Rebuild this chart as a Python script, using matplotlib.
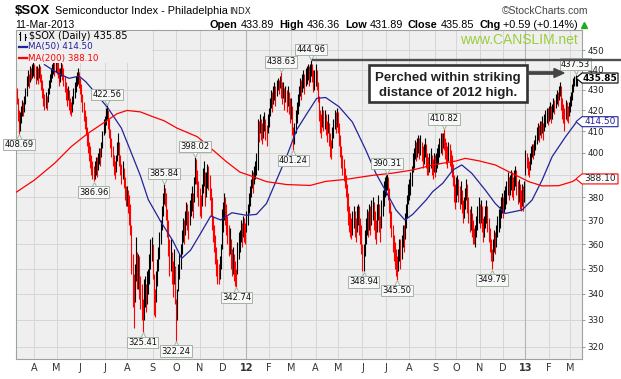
import numpy as np
import matplotlib
matplotlib.use("Agg")
import matplotlib.pyplot as plt
from matplotlib.patches import Polygon, Rectangle, FancyArrow
from matplotlib.lines import Line2D
from matplotlib.transforms import IdentityTransform, offset_copy
from matplotlib.ticker import FixedLocator, NullLocator

# ------------------------------------------------------------------ data
# trading days per calendar month, Mar-2011 (from 10th) .. Mar-2013 (to 11th)
month_lengths = [16, 20, 21, 22, 20, 23, 21, 21, 21, 21, 20, 20, 22, 20, 22, 21, 21, 23, 19, 21, 21, 20, 21, 19, 7]
month_labels = ['', 'A', 'M', 'J', 'J', 'A', 'S', 'O', 'N', 'D', '12', 'F', 'M', 'A', 'M', 'J', 'J', 'A', 'S', 'O', 'N', 'D', '13', 'F', 'M']

closes = [
    425, 418, 411, 416, 419, 422, 420, 424, 428, 433, 436, 435, 439, 438, 440, 441,
    440, 437, 439, 436, 441, 438, 434, 430, 427, 424, 426, 423, 428, 432, 435, 438, 440, 442, 441, 443,
    442, 440, 436, 438, 441, 439, 437, 433, 430, 427, 429, 425, 422, 420, 424, 427, 430, 433, 436, 437, 435,
    432, 427, 423, 420, 415, 412, 408, 404, 400, 398, 394, 392, 389, 391, 395, 393, 397, 399, 398, 402, 406, 412,
    414, 418, 420, 416, 412, 406, 403, 398, 395, 392, 396, 401, 404, 398, 395, 390, 392, 388, 384, 380,
    381, 378, 375, 370, 352, 345, 333, 350, 356, 347, 352, 344, 340, 335, 328, 338, 342, 336, 345, 347, 352, 358, 360,
    352, 340, 336, 345, 350, 355, 360, 366, 372, 378, 382, 380, 376, 368, 362, 352, 356, 350, 345, 352, 340,
    330, 340, 348, 352, 356, 362, 367, 365, 370, 374, 372, 366, 375, 378, 380, 376, 385, 395, 392, 384, 380,
    378, 376, 382, 388, 390, 382, 386, 390, 388, 384, 378, 372, 366, 362, 358, 352, 348, 347, 350, 356, 372,
    372, 376, 374, 370, 366, 360, 362, 356, 352, 354, 350, 348, 346, 358, 360, 362, 366, 364, 368, 366, 364,
    370, 372, 378, 380, 384, 388, 386, 390, 392, 396, 412, 410, 414, 411, 409, 412, 415, 411, 408, 414,
    418, 422, 426, 424, 428, 430, 427, 432, 435, 433, 436, 432, 428, 431, 426, 429, 425, 428, 424, 420,
    422, 414, 405, 410, 416, 420, 424, 428, 432, 430, 434, 436, 433, 437, 438, 440, 437, 439, 442, 440, 434, 436,
    438, 434, 428, 420, 414, 412, 418, 415, 416, 412, 410, 414, 408, 403, 400, 408, 412, 416, 414, 417,
    414, 408, 402, 398, 395, 392, 388, 385, 380, 374, 370, 368, 366, 370, 372, 368, 366, 371, 373, 370, 366, 362,
    354, 356, 362, 366, 370, 368, 372, 370, 374, 376, 372, 368, 365, 372, 376, 370, 366, 374, 378, 382, 385,
    386, 388, 384, 378, 372, 368, 362, 358, 356, 352, 350, 354, 358, 356, 360, 364, 362, 368, 372, 376, 382,
    384, 386, 390, 396, 398, 402, 400, 403, 405, 402, 404, 400, 398, 400, 403, 398, 395, 394, 396, 398, 394, 392, 396,
    394, 396, 398, 400, 403, 405, 404, 407, 406, 402, 400, 398, 401, 399, 396, 394, 390, 384, 380,
    384, 386, 383, 380, 382, 378, 374, 376, 380, 384, 378, 374, 370, 372, 368, 365, 362, 364, 368, 372, 374,
    372, 374, 370, 366, 368, 372, 374, 370, 366, 362, 356, 352, 358, 362, 360, 364, 368, 370, 372, 376, 378,
    376, 378, 380, 382, 386, 384, 386, 388, 385, 384, 388, 390, 386, 382, 384, 380, 378, 382, 379, 383,
    398, 396, 394, 392, 396, 399, 401, 400, 403, 405, 408, 410, 409, 412, 411, 413, 410, 414, 416, 418, 417,
    419, 421, 418, 420, 423, 422, 425, 427, 426, 429, 431, 428, 420, 418, 414, 422, 420, 418, 421,
    424, 427, 431, 434, 434, 435.26, 435.85,
]
highs = [
    431, 426, 420, 419, 422, 425, 424, 427, 431, 437, 440, 438, 442, 441, 443, 444,
    443, 442, 442, 441, 443, 442, 438, 435, 431, 428, 429, 427, 431, 435, 438, 441, 443, 445, 444, 446,
    446, 444, 441, 441, 444, 443, 441, 437, 434, 431, 432, 430, 426, 424, 427, 431, 434, 437, 439, 441, 439,
    436, 433, 428, 424, 420, 417, 412, 409, 405, 403, 399, 396, 394, 396, 398, 398, 400, 402, 402, 405, 410, 416,
    417, 421, 422.56, 420, 416, 411, 407, 403, 399, 396, 399, 405, 409, 405, 399, 395, 396, 393, 389, 385,
    385, 383, 381, 377, 368, 356, 348, 352, 363, 357, 356, 355, 347, 344, 338, 346, 347, 344, 349, 350, 356, 362, 363,
    360, 348, 342, 349, 354, 359, 365, 370, 376, 382, 385.84, 384, 382, 375, 370, 362, 362, 357, 353, 358, 351,
    338, 342, 352, 356, 360, 366, 371, 370, 374, 378, 377, 374, 379, 382, 385, 382, 389, 398.02, 397, 392, 387,
    384, 381, 386, 393, 396, 391, 391, 395, 394, 390, 384, 380, 372, 368, 364, 359, 354, 352, 355, 360, 375,
    378, 382, 380, 377, 372, 368, 367, 362, 358, 359, 356, 353, 350, 361, 365, 366, 370, 369, 372, 371, 369,
    374, 377, 382, 385, 388, 392, 391, 394, 396, 400, 416, 415, 418, 416, 414, 417, 419, 416, 413, 418,
    421, 426, 430, 429, 432, 434, 432, 435, 436, 435, 437, 438.63, 434, 434, 431, 432, 430, 432, 429, 426,
    426, 422, 412, 414, 420, 424, 428, 432, 436, 435, 438, 440, 438, 441, 442, 443, 442, 443, 444.96, 443, 440, 440,
    443, 440, 434, 427, 420, 418, 422, 420, 420, 418, 415, 418, 414, 409, 406, 412, 416, 420, 419, 421,
    419, 414, 408, 403, 399, 397, 393, 390, 386, 382, 376, 373, 371, 374, 376, 374, 371, 376, 377, 376, 371, 368,
    360, 360, 366, 371, 375, 374, 377, 376, 379, 380, 378, 374, 370, 377, 381, 377, 372, 379, 383, 387, 389,
    390, 390.31, 389, 384, 378, 374, 368, 364, 361, 358, 355, 358, 362, 362, 364, 368, 368, 373, 377, 381, 386,
    388, 391, 394, 400, 402, 406, 405, 407, 408, 407, 408, 405, 403, 404, 407, 404, 400, 398, 400, 402, 399, 397, 400,
    399, 400, 402, 404, 407, 409, 409, 409, 410.82, 407, 405, 403, 405, 404, 401, 399, 395, 390, 386,
    389, 390, 388, 385, 387, 383, 379, 380, 384, 388, 386, 380, 375, 376, 373, 370, 367, 368, 372, 376, 380,
    377, 379, 376, 371, 372, 376, 379, 376, 371, 367, 362, 358, 362, 366, 365, 368, 372, 375, 376, 380, 382,
    380, 383, 385, 387, 391, 389, 390, 392, 391, 389, 392, 394, 392, 387, 388, 386, 383, 386, 385, 387,
    401, 400, 398, 396, 400, 403, 404, 404, 406, 408, 412, 414, 413, 415, 415, 417, 414, 418, 420, 421, 421,
    422, 424, 422, 423, 426, 425, 428, 430, 429, 432, 434, 432, 426, 423, 421, 425, 424, 422, 424,
    427, 429, 433, 436, 437, 437.53, 436.36,
]
lows = [
    423, 415, 408.69, 410, 414, 417, 417, 419, 423, 427, 432, 431, 434, 435, 436, 437,
    436, 433, 435, 433, 436, 434, 430, 426, 422, 420, 421, 420, 424, 428, 431, 434, 436, 438, 437, 439,
    438, 436, 432, 434, 437, 435, 432, 429, 425, 422, 425, 420, 418, 417, 419, 423, 426, 429, 432, 433, 431,
    428, 424, 419, 415, 411, 408, 403, 400, 396, 393, 390, 388, 386.96, 388, 390, 389, 392, 395, 394, 398, 402, 408,
    409, 413, 416, 411, 407, 402, 398, 394, 390, 388, 391, 396, 399, 394, 390, 386, 388, 384, 379, 376,
    376, 373, 368, 364, 348, 335, 327, 337, 345, 342, 342, 338, 334, 330, 325.41, 330, 335, 333, 336, 340, 344, 350, 353,
    346, 332, 331, 337, 343, 349, 354, 360, 366, 372, 377, 376, 370, 363, 355, 347, 349, 344, 339, 344, 336,
    322.24, 330, 341, 346, 350, 356, 361, 360, 364, 368, 366, 362, 368, 372, 374, 371, 378, 386, 386, 380, 376,
    372, 371, 376, 382, 385, 376, 380, 384, 383, 379, 372, 366, 361, 357, 352, 347, 344, 344, 346, 350, 358,
    365, 370, 368, 364, 360, 355, 356, 350, 347, 348, 345, 343, 342.74, 348, 354, 357, 361, 359, 363, 361, 360,
    365, 368, 373, 376, 380, 384, 382, 386, 388, 390, 392, 405, 409, 406, 404, 407, 410, 406, 403, 409,
    412, 417, 421, 419, 423, 425, 422, 427, 430, 428, 431, 426, 423, 426, 420, 424, 419, 422, 418, 414,
    416, 408, 401.24, 404, 409, 414, 418, 422, 427, 425, 429, 431, 428, 432, 433, 435, 432, 434, 437, 434, 429, 430,
    432, 430, 424, 415, 409, 407, 412, 410, 411, 408, 405, 409, 403, 398, 397, 402, 407, 411, 409, 412,
    409, 403, 398, 393, 390, 387, 384, 380, 374, 368, 365, 363, 362, 364, 367, 363, 361, 365, 368, 364, 360, 356,
    349, 348.94, 355, 360, 364, 363, 366, 364, 368, 370, 366, 362, 360, 365, 370, 365, 361, 367, 372, 376, 380,
    381, 383, 379, 373, 367, 363, 357, 353, 350, 347, 345.50, 349, 353, 350, 354, 359, 357, 362, 367, 371, 377,
    379, 381, 385, 391, 393, 397, 396, 398, 400, 397, 399, 396, 393, 395, 398, 393, 390, 390, 391, 393, 390, 388, 391,
    389, 391, 393, 395, 398, 400, 399, 402, 401, 397, 395, 393, 396, 394, 391, 389, 385, 378, 375,
    378, 381, 378, 375, 377, 373, 369, 371, 375, 379, 373, 369, 365, 366, 363, 360, 360, 359, 363, 366, 369,
    367, 369, 365, 361, 363, 367, 369, 365, 361, 357, 353, 349.79, 353, 357, 356, 359, 363, 365, 367, 371, 373,
    371, 373, 375, 377, 381, 379, 381, 383, 380, 379, 383, 385, 381, 377, 378, 375, 374, 376, 374, 378,
    390, 393, 390, 389, 392, 395, 398, 397, 399, 401, 404, 406, 405, 408, 407, 409, 406, 410, 412, 414, 413,
    415, 416, 414, 416, 419, 418, 421, 423, 422, 425, 427, 420, 416, 414, 410, 416, 415, 414, 417,
    419, 422, 425, 429, 432, 432, 431.89,
]
prev_close_start = 428.0

# moving averages (trading-day index, value)
ma50_idx = [25, 37, 47, 56, 62, 70, 82, 94, 102, 111, 118, 129, 140, 148, 156, 165, 174, 183, 193, 206,
            215, 224, 233, 242, 251, 260, 269, 277, 289, 301, 313, 322, 331, 340, 348, 355, 367, 373, 382, 391,
            399, 408, 420, 429, 438, 453, 462, 471, 480, 492, 502]
ma50_val = [442.6, 438.3, 435.7, 436.8, 434.0, 428.9, 421.0, 411.4, 401.0, 389.5, 379.0, 369.7, 361.5, 354.2, 357.6,
            364.6, 371.9, 370.2, 373.3, 372.2, 372.6, 377.3, 387.6, 398.2, 410.6, 418.2, 425.8, 426.2, 421.7, 414.3,
            401.2, 390.6, 382.6, 374.5, 370.2, 372.6, 378.8, 382.5, 386.2, 392.1, 394.4, 390.6, 383.2, 377.3, 373.0,
            374.5, 378.8, 387.6, 398.2, 407.4, 414.5]
ma200_idx = [0, 16, 34, 49, 64, 79, 90, 99, 111, 123, 132, 144, 162, 176, 188, 200, 212, 224, 242, 263,
             277, 295, 319, 337, 355, 373, 394, 402, 414, 429, 444, 459, 471, 486, 498, 502]
ma200_val = [382.3, 387.6, 395.1, 402.8, 409.0, 414.3, 418.3, 419.9, 419.2, 416.7, 415.0, 411.4, 407.4, 401.2,
             395.9, 391.2, 389.1, 386.9, 385.6, 385.2, 387.0, 387.9, 389.7, 390.7, 392.1, 394.4, 396.2, 397.4,
             396.3, 394.4, 390.6, 386.9, 385.0, 385.1, 386.9, 388.1]

ann_values = [408.69, 422.56, 386.96, 325.41, 385.84, 322.24, 398.02, 342.74, 438.63, 401.24, 444.96,
              348.94, 390.31, 345.50, 410.82, 349.79, 437.53]
ann_is_high = [False, True, False, False, True, False, True, False, True, False, True,
               False, True, False, True, False, True]

last_open, last_high, last_low, last_close = 433.89, 436.36, 431.89, 435.85
last_chg, last_chg_pct = 0.59, 0.14
ma50_last, ma200_last = 414.50, 388.10
y_ticks = [320, 330, 340, 350, 360, 370, 380, 390, 400, 410, 420, 430, 440, 450]

assert len(closes) == len(highs) == len(lows) == sum(month_lengths), (len(closes), len(highs), len(lows), sum(month_lengths))

# ------------------------------------------------------------------ figure
W, H = 621, 379
fig = plt.figure(figsize=(W / 100, H / 100), dpi=100)
fig.patch.set_facecolor('white')
SANS = ['Liberation Sans', 'DejaVu Sans']
DJ = ['DejaVu Sans']


def P(x, y):
    return (x / W, 1 - y / H)


L_, R_, T_, B_ = 16.0, 582.3, 30.0, 359.3
ax = fig.add_axes([L_ / W, 1 - B_ / H, (R_ - L_) / W, (B_ - T_) / H])
ax.set_facecolor('#efefef')
ax.set_yscale('log')
ax.set_ylim(315.4, 460.6)
ax.set_xlim(-0.5, 507.0)

n = len(closes)
x = np.arange(n)
c = np.array(closes, float)
hi = np.array(highs, float)
lo = np.array(lows, float)
prev = np.concatenate([[prev_close_start], c[:-1]])
cols = np.where(c >= prev, '#000000', '#ff0000')
ax.vlines(x, lo, hi, colors=cols, linewidth=0.8, zorder=3)

ax.plot(ma50_idx, ma50_val, color='#23239b', lw=0.9, zorder=4)
ax.plot(ma200_idx, ma200_val, color='#ff0000', lw=0.9, zorder=4)

# axes, grid
month_starts = np.cumsum([0] + month_lengths[:-1])
tick_pos = [int(s) for s, lab in zip(month_starts, month_labels) if lab]
tick_lab = [lab for lab in month_labels if lab]
ax.xaxis.set_major_locator(FixedLocator(tick_pos))
ax.set_xticklabels(tick_lab)
ax.xaxis.set_minor_locator(NullLocator())
ax.yaxis.set_major_locator(FixedLocator(y_ticks))
ax.yaxis.set_minor_locator(NullLocator())
# the 390 label sits fully under the MA(200) value tag in the original
ax.set_yticklabels(['' if t == 390 else str(t) for t in y_ticks])
ax.yaxis.tick_right()
ax.grid(True, which='major', color='#d6d6d6', lw=0.7, zorder=0)
ax.set_axisbelow(True)
for p, lab in zip(tick_pos, tick_lab):
    if lab in ('12', '13'):
        ax.axvline(p, color='#b4b4b4', lw=0.8, zorder=1)
ax.tick_params(axis='x', length=0, pad=3, labelsize=7, labelcolor='#333333')
ax.tick_params(axis='y', length=2.5, pad=1, labelsize=6.3, labelcolor='#222222', color='#888888', width=0.6)
for t in ax.get_xticklabels():
    t.set_fontfamily(DJ)
    if t.get_text() in ('12', '13'):
        t.set_fontweight('bold')
for t in ax.get_yticklabels():
    t.set_fontfamily(DJ)
for s in ax.spines.values():
    s.set_color('#9aa59a')
    s.set_linewidth(0.8)

fig.canvas.draw()
ren = fig.canvas.get_renderer()

# ------------------------------------------------------------------ annotations on bars
for v, is_hi in zip(ann_values, ann_is_high):
    arr = hi if is_hi else lo
    i = int(np.argmin(np.abs(arr - v)))
    dy = 7.6 if is_hi else -7.6
    ax.annotate(f'{v:.2f}', xy=(i, v), xytext=(0, dy), textcoords='offset points',
                ha='center', va='center', fontsize=6, family=DJ, color='#111111',
                bbox=dict(boxstyle='square,pad=0.15', fc='#f8f8f8', ec='#a3b3a3', lw=0.7),
                zorder=7, annotation_clip=False)
    tr = offset_copy(ax.transData, fig=fig, x=0, y=(3.2 if is_hi else -3.2), units='dots')
    ax.plot([i], [v], marker=('v' if is_hi else '^'), ms=4.5, mfc='#f8f8f8', mec='#a3b3a3', mew=0.7,
            transform=tr, zorder=6.5, clip_on=False, ls='none')

# resistance line at the 2012 high
i_top = int(np.argmax(hi[200:400])) + 200
xd, yd = ax.transData.transform((i_top, hi[i_top]))
fig.add_artist(Line2D([xd + 2, 620], [yd, yd], color='#505050', lw=1.7, transform=IdentityTransform(), zorder=2))

# callout box + arrow
fig.add_artist(Rectangle((369, H - 102), 158, 37, fc='white', ec='#333333', lw=1.9,
                         transform=IdentityTransform(), zorder=3))
fig.text(*P(448, 77.5), 'Perched within striking', ha='center', va='center', fontsize=9.5,
         fontweight='bold', family=SANS, color='#222222', zorder=4)
fig.text(*P(448, 93.0), 'distance of 2012 high.', ha='center', va='center', fontsize=9.5,
         fontweight='bold', family=SANS, color='#222222', zorder=4)
fig.add_artist(FancyArrow(528, H - 73, 36, 0, width=2.3, head_width=9, head_length=10,
                          length_includes_head=True, color='#444444', transform=IdentityTransform(), zorder=3))


# right-side value tags
def right_tag(value, ec, tc, weight):
    yv = ax.transData.transform((0, value))[1]
    poly = [(576, yv), (582, yv + 5), (618, yv + 5), (618, yv - 5), (582, yv - 5)]
    fig.add_artist(Polygon(poly, closed=True, fc='white', ec=ec, lw=0.8, transform=IdentityTransform(), zorder=7))
    fig.text(600 / W, yv / H, f'{value:.2f}', ha='center', va='center', fontsize=6.5, color=tc,
             fontweight=weight, family=DJ, zorder=8)


right_tag(last_close, '#000000', '#000000', 'bold')
right_tag(ma50_last, '#23239b', '#23239b', 'normal')
right_tag(ma200_last, '#ff0000', '#222222', 'normal')

# legend block (top-left inside plot)
fig.add_artist(Rectangle((16.6, H - 63), 135, 32.4, fc='#efefef', ec='none', transform=IdentityTransform(), zorder=2))
for xx, y0, y1 in ((20, 32, 40), (24.5, 33.5, 39.5)):
    fig.add_artist(Line2D([xx, xx], [H - y0, H - y1], color='black', lw=0.8, transform=IdentityTransform(), zorder=3))
fig.add_artist(Line2D([18.5, 20], [H - 34, H - 34], color='black', lw=0.7, transform=IdentityTransform(), zorder=3))
fig.add_artist(Line2D([24.5, 26], [H - 37, H - 37], color='black', lw=0.7, transform=IdentityTransform(), zorder=3))
fig.text(*P(29, 36), f'$SOX (Daily) {last_close:.2f}', fontsize=7, family=DJ, va='center', parse_math=False, zorder=4)
fig.add_artist(Line2D([19, 27], [H - 47, H - 47], color='#23239b', lw=1.6, transform=IdentityTransform(), zorder=3))
fig.text(*P(28.5, 47), f'MA(50) {ma50_last:.2f}', fontsize=6.3, family=DJ, color='#23239b', va='center', zorder=4)
fig.add_artist(Line2D([19, 27], [H - 58, H - 58], color='#ff0000', lw=1.6, transform=IdentityTransform(), zorder=3))
fig.text(*P(28.5, 58), f'MA(200) {ma200_last:.2f}', fontsize=6.3, family=DJ, color='#ff0000', va='center', zorder=4)

fig.text(*P(578, 40), 'www.CANSLIM.net', ha='right', va='center', fontsize=10, family=SANS, color='#9acd3a', zorder=4)

# ------------------------------------------------------------------ header
fig.text(*P(15, 11.5), '$SOX', fontsize=9.5, fontweight='bold', family=SANS, va='center', parse_math=False)
fig.text(*P(55, 11.5), 'Semiconductor Index - Philadelphia', fontsize=7.8, family=SANS, va='center')
fig.text(*P(229, 11.5), 'INDX', fontsize=6.3, family=DJ, va='center', color='#222222')
fig.text(*P(588, 11), '\u00a9StockCharts.com', fontsize=7.5, family=SANS, va='center', ha='right', color='#444444')
fig.text(*P(15, 24.5), '11-Mar-2013', fontsize=7.5, family=SANS, va='center')

pieces = [('Open', True), (f'{last_open:.2f}', False), ('High', True), (f'{last_high:.2f}', False),
          ('Low', True), (f'{last_low:.2f}', False), ('Close', True), (f'{last_close:.2f}', False),
          ('Chg', True), (f'+{last_chg:.2f} (+{last_chg_pct:.2f}%)', False)]
arts, widths = [], []
for txt, bold in pieces:
    a = fig.text(0, 0, txt, fontsize=7.8, fontweight=('bold' if bold else 'normal'), family=SANS, va='center')
    arts.append(a)
    widths.append(a.get_window_extent(ren).width)
gaps = [3.0 if b else 5.0 for _, b in pieces]
total = sum(widths) + sum(gaps[:-1])
xc = 578 - total
for a, w, g in zip(arts, widths, gaps):
    a.set_position(P(xc, 24.5))
    xc += w + g
fig.add_artist(Line2D([584], [H - 24.5], marker='^', ms=4.5, color='#22aa22', ls='none',
                      transform=IdentityTransform()))

fig.savefig('out.png', dpi=100, facecolor='white')
